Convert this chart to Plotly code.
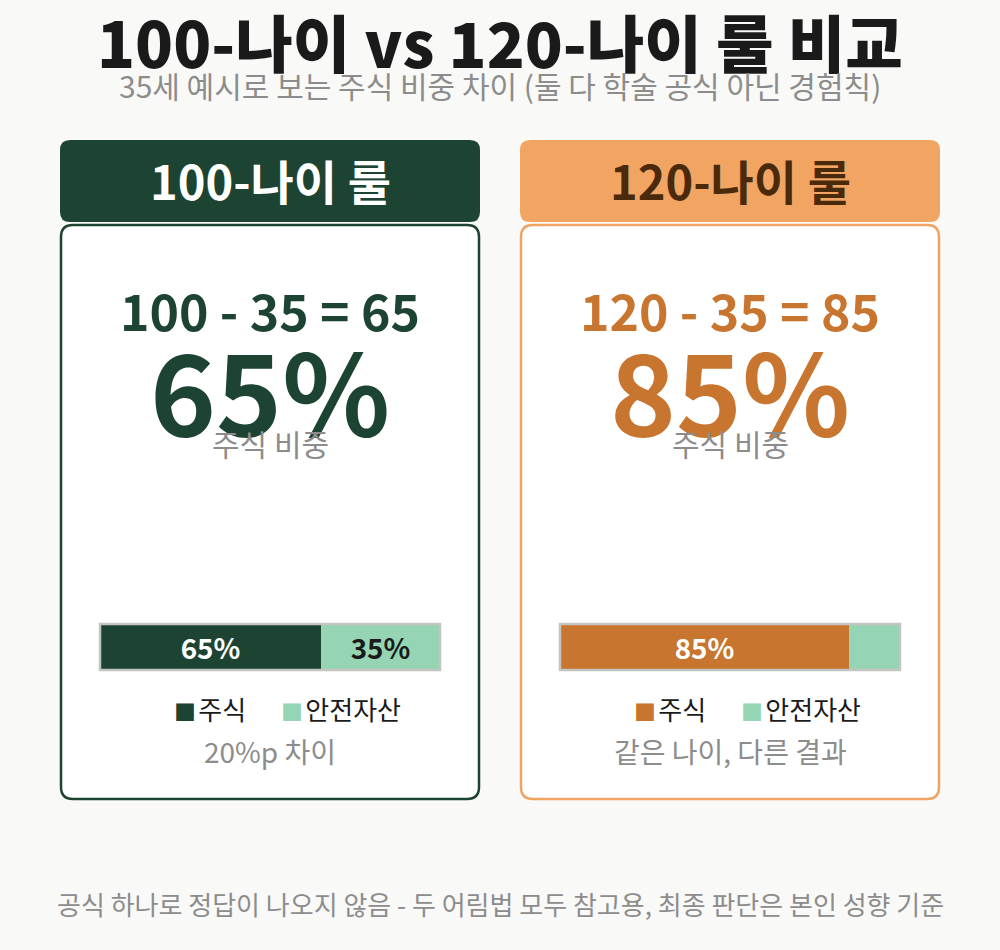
import plotly.graph_objects as go

# data
rules = ["100-나이 룰", "120-나이 룰"]
base_ages = [100, 120]
age = 35
stock_pct = [65, 85]
safe_pct = [35, 15]
part_labels = ["주식", "안전자산"]
notes = ["20%p 차이", "같은 나이, 다른 결과"]

title = "100-나이 vs 120-나이 룰 비교"
subtitle = "35세 예시로 보는 주식 비중 차이 (둘 다 학술 공식 아닌 경험칙)"
footer = "공식 하나로 정답이 나오지 않음 - 두 어림법 모두 참고용, 최종 판단은 본인 성향 기준"

# styles
W, H = 1000, 950
FONT = "Noto Sans CJK KR"
BG = "#f9f9f7"
GRAY = "#8c8c8c"
MINT = "#96d5b3"
main_col = ["#1d4432", "#c8752f"]
head_fill = ["#1d4432", "#f2a462"]
head_text = ["#ffffff", "#4a2a0a"]
card_border = ["#1d4432", "#f0a464"]
bar_text = ["#ffffff", "#ffffff"]
safe_text = "#1a1a1a"
card_x = [(60, 480), (520, 940)]


def px(x):
    return x / W


def py(y):
    return 1 - y / H


def rounded(x0, y0, x1, y1, r):
    # pixel box -> svg path in paper coords
    pts = [
        f"M {px(x0 + r)},{py(y0)}",
        f"L {px(x1 - r)},{py(y0)}",
        f"Q {px(x1)},{py(y0)} {px(x1)},{py(y0 + r)}",
        f"L {px(x1)},{py(y1 - r)}",
        f"Q {px(x1)},{py(y1)} {px(x1 - r)},{py(y1)}",
        f"L {px(x0 + r)},{py(y1)}",
        f"Q {px(x0)},{py(y1)} {px(x0)},{py(y1 - r)}",
        f"L {px(x0)},{py(y0 + r)}",
        f"Q {px(x0)},{py(y0)} {px(x0 + r)},{py(y0)}",
        "Z",
    ]
    return " ".join(pts)


fig = go.Figure()
shapes = []
annotations = []


def text(x, y, s, size, color, weight=400, **kw):
    annotations.append(dict(
        x=px(x), y=py(y), xref="paper", yref="paper", text=s, showarrow=False,
        xanchor=kw.get("xanchor", "center"), yanchor="middle",
        font=dict(family=FONT, size=size, color=color, weight=weight),
    ))


text(500, 41, title, 62.5, "#1a1a1a", weight=900)
text(500, 85, subtitle, 30, GRAY)
text(500, 903, footer, 26, GRAY)

for i in range(2):
    x0, x1 = card_x[i]
    cx = (x0 + x1) / 2
    xa = "x" if i == 0 else "x2"
    ya = "y" if i == 0 else "y2"

    shapes.append(dict(type="path", xref="paper", yref="paper",
                       path=rounded(x0, 140, x1, 222, 10),
                       fillcolor=head_fill[i], line=dict(width=0), layer="below"))
    shapes.append(dict(type="path", xref="paper", yref="paper",
                       path=rounded(x0 + 1, 225, x1 - 1, 799, 12),
                       fillcolor="#ffffff", line=dict(color=card_border[i], width=2.5),
                       layer="below"))

    text(cx, 179, rules[i], 47, head_text[i], weight=700)
    text(cx, 309, f"{base_ages[i]} - {age} = {stock_pct[i]}", 50, main_col[i], weight=700)
    text(cx, 387, f"{stock_pct[i]}%", 112, main_col[i], weight=700)
    text(cx, 443, "주식 비중", 30, GRAY)

    fig.add_trace(go.Bar(
        y=[""], x=[stock_pct[i]], orientation="h", marker=dict(color=main_col[i], line=dict(width=0)),
        text=[f"{stock_pct[i]}%"], textposition="inside", insidetextanchor="middle",
        textfont=dict(family=FONT, size=32, color=bar_text[i], weight=700),
        xaxis=xa, yaxis=ya, showlegend=False, hoverinfo="skip",
    ))
    fig.add_trace(go.Bar(
        y=[""], x=[safe_pct[i]], orientation="h", marker=dict(color=MINT, line=dict(width=0)),
        text=[f"{safe_pct[i]}%" if safe_pct[i] >= 20 else ""], textposition="inside",
        insidetextanchor="middle",
        textfont=dict(family=FONT, size=32, color=safe_text, weight=700),
        xaxis=xa, yaxis=ya, showlegend=False, hoverinfo="skip",
    ))
    shapes.append(dict(type="rect", xref=f"{xa} domain", yref=f"{ya} domain",
                       x0=0, x1=1, y0=0, y1=1, line=dict(color="#c4c4c0", width=2.5),
                       layer="above"))

    # legend line
    leg_x = x0 + 112
    gap = "<span style='font-size:10px'> </span>"
    annotations.append(dict(
        x=px(leg_x), y=py(708), xref="paper", yref="paper", showarrow=False,
        xanchor="left", yanchor="middle",
        text=(f"<span style='color:{main_col[i]};font-size:22px'>■</span>{gap}{part_labels[0]}"
              f"      <span style='color:{MINT};font-size:22px'>■</span>{gap}{part_labels[1]}"),
        font=dict(family=FONT, size=26, color="#1a1a1a"),
    ))
    text(cx, 751, notes[i], 28, GRAY)

bar_dom = [py(670), py(624)]
fig.update_layout(
    width=W, height=H, margin=dict(l=0, r=0, t=0, b=0),
    paper_bgcolor=BG, plot_bgcolor="rgba(0,0,0,0)",
    barmode="stack", bargap=0, showlegend=False,
    shapes=shapes, annotations=annotations,
    uniformtext=dict(minsize=10, mode="show"),
    xaxis=dict(domain=[px(100), px(440)], range=[0, 100], visible=False, fixedrange=True),
    yaxis=dict(domain=bar_dom, range=[-0.5, 0.5], visible=False, fixedrange=True),
    xaxis2=dict(domain=[px(560), px(900)], range=[0, 100], visible=False, fixedrange=True),
    yaxis2=dict(domain=bar_dom, range=[-0.5, 0.5], visible=False, fixedrange=True),
)

fig.write_html("out.html", config={"displayModeBar": False},
               post_script="document.body.style.margin='0';document.body.style.background='#f9f9f7';")
